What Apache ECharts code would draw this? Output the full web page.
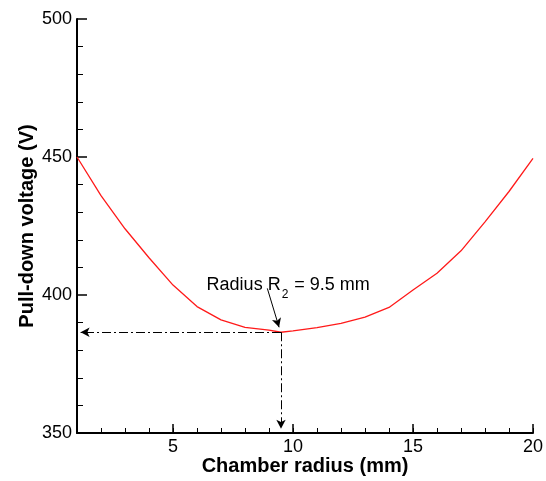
<!DOCTYPE html>
<html>
<head>
<meta charset="utf-8">
<script src="https://cdn.jsdelivr.net/npm/echarts@6/dist/echarts.min.js"></script>
<style>
  html, body { margin: 0; padding: 0; background: #fff; }
  #chart { width: 546px; height: 481px; }
</style>
</head>
<body>
<div id="chart"></div>
<script>
// chamber radius (mm) and pull-down voltage (V)
var radius = [1, 2, 3, 4, 5, 6, 7, 8, 9, 9.5, 10, 11, 12, 13, 14, 15, 16, 17, 18, 19, 20];
var voltage = [450, 436, 424, 413.5, 403.6, 395.8, 391, 388.3, 387.3, 386.5, 387, 388.2, 389.7, 392, 395.5, 401.8, 407.9, 416, 426.5, 437.5, 449.5];
var xMajorTicks = [5, 10, 15, 20];
var optimum = [9.5, 386.5];
var noteFrom = [8.93, 402.4];
var noteText = 'Radius R';

var chart = echarts.init(document.getElementById('chart'));
var font = 'Liberation Sans, Arial, sans-serif';
var dashDot = [9, 3, 2, 3];

var option = {
  animation: false,
  grid: { left: 77, right: 13, top: 19, bottom: 48, outerBoundsMode: 'none' },
  xAxis: [
    {
      type: 'value', min: 1, max: 20, interval: 1,
      name: 'Chamber radius (mm)', nameLocation: 'middle', nameGap: 23, nameMoveOverlap: false,
      nameTextStyle: { fontFamily: font, fontWeight: 'bold', fontSize: 20, color: '#000' },
      axisLine: { show: true, lineStyle: { color: '#000', width: 2 } },
      axisTick: { inside: true, length: 9, customValues: xMajorTicks, lineStyle: { color: '#000', width: 1.5 } },
      axisLabel: { customValues: xMajorTicks, fontFamily: font, fontSize: 18, color: '#000', margin: 5 },
      splitLine: { show: false }
    },
    {
      type: 'value', min: 1, max: 20, interval: 1, position: 'bottom',
      axisLine: { show: false },
      axisTick: { inside: true, length: 5, lineStyle: { color: '#000', width: 1 } },
      axisLabel: { show: false },
      splitLine: { show: false }
    }
  ],
  yAxis: {
    type: 'value', min: 350, max: 500, interval: 50,
    name: 'Pull-down voltage (V)', nameLocation: 'middle', nameGap: 40, nameMoveOverlap: false,
    nameTextStyle: { fontFamily: font, fontWeight: 'bold', fontSize: 20, color: '#000' },
    axisLine: { show: true, lineStyle: { color: '#000', width: 2 } },
    axisTick: { inside: true, length: 10, lineStyle: { color: '#000', width: 1.5 } },
    minorTick: { show: true, splitNumber: 5, length: 6, lineStyle: { color: '#000', width: 1 } },
    axisLabel: { fontFamily: font, fontSize: 18, color: '#000', margin: 5 },
    splitLine: { show: false }
  },
  series: [
    {
      type: 'line',
      data: radius.map(function (r, i) { return [r, voltage[i]]; }),
      showSymbol: false,
      lineStyle: { color: '#ff1a1a', width: 1.3 },
      markLine: {
        silent: true,
        symbolSize: [7, 9],
        label: { show: false },
        lineStyle: { color: '#000', width: 1, type: dashDot },
        data: [
          [
            { coord: [optimum[0], optimum[1]], symbol: 'none' },
            { coord: [1.15, optimum[1]], symbol: 'arrow' }
          ],
          [
            { coord: [optimum[0], optimum[1]], symbol: 'none' },
            { coord: [optimum[0], 351.5], symbol: 'arrow' }
          ],
          [
            { coord: noteFrom, symbol: 'none', lineStyle: { type: 'solid' } },
            { coord: [9.42, 388.3], symbol: 'arrow', lineStyle: { type: 'solid' } }
          ]
        ]
      },
      markPoint: {
        silent: true,
        symbol: 'circle', symbolSize: 0,
        data: [{
          coord: [6.4, 402.3],
          label: {
            show: true, position: 'right', distance: 0,
            formatter: '{a|' + noteText + '}{s|2}{a| = 9.5 mm}',
            rich: {
              a: { fontFamily: font, fontSize: 18, color: '#000', lineHeight: 20, verticalAlign: 'top' },
              s: { fontFamily: font, fontSize: 12, color: '#000', lineHeight: 25, verticalAlign: 'bottom', padding: [0, 1, 0, 1] }
            }
          }
        }]
      }
    }
  ]
};
chart.setOption(option);
</script>
</body>
</html>
